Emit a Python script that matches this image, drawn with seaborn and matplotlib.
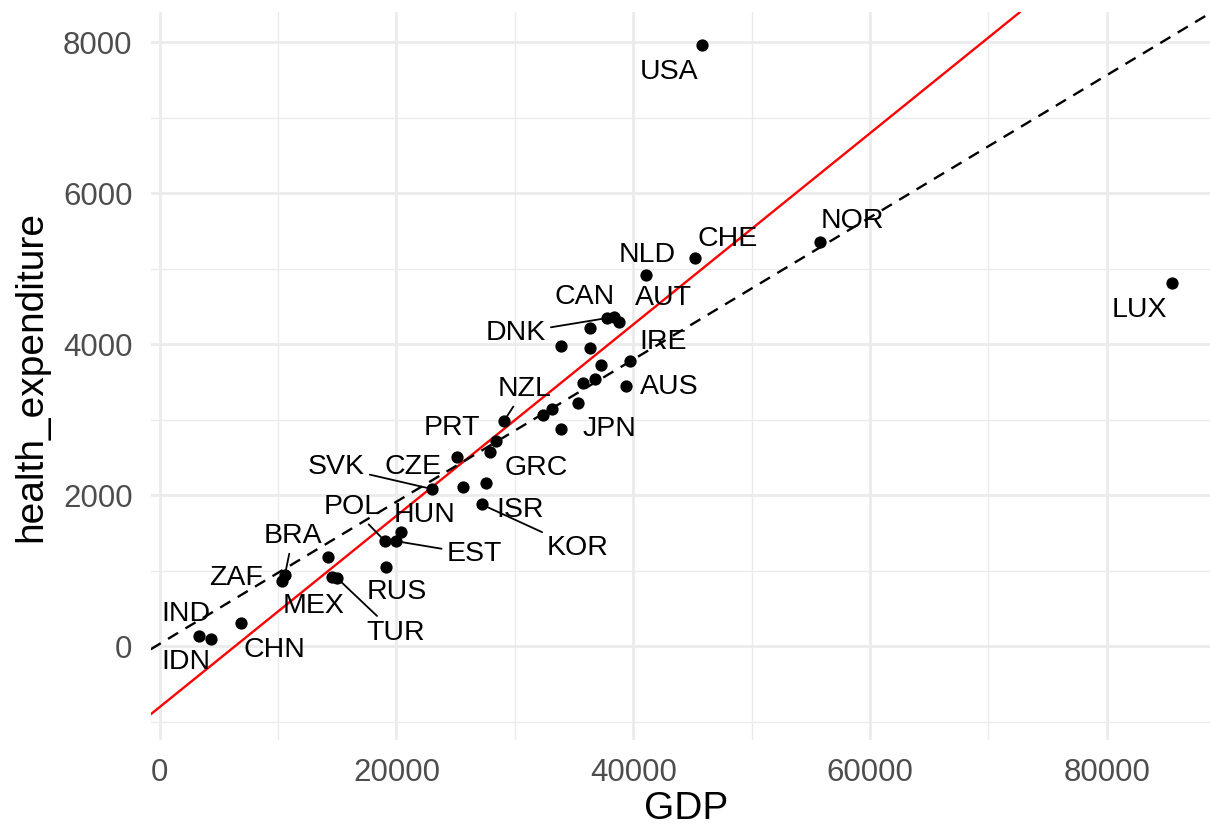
import numpy as np
import pandas as pd
import matplotlib
matplotlib.use("Agg")
import matplotlib.pyplot as plt
import seaborn as sns

# Per-capita GDP and health expenditure (USD PPP)
countries = ["USA", "CHE", "NLD", "NOR", "LUX", "DNK", "CAN", "AUT", "DEU", "FRA",
             "BEL", "IRE", "SWE", "ISL", "GBR", "AUS", "FIN", "ITA", "ESP", "JPN",
             "NZL", "GRC", "SVN", "PRT", "SVK", "CZE", "ISR", "KOR", "HUN", "POL",
             "EST", "RUS", "CHL", "BRA", "ZAF", "MEX", "TUR", "CHN", "IND", "IDN"]
gdp = [45850, 45200, 41040, 55760, 85550, 37800, 38340, 38810, 36360, 33860,
       36360, 39710, 37260, 36760, 35770, 39430, 35350, 33180, 32340, 33940,
       29070, 28400, 27890, 25080, 22970, 25630, 27550, 27190, 20370, 19020,
       19950, 19100, 14230, 10570, 10300, 14520, 14990, 6830, 3340, 4320]
health_expenditure = [7960, 5144, 4914, 5352, 4808, 4348, 4363, 4289, 4218, 3978,
                      3946, 3781, 3722, 3538, 3487, 3445, 3226, 3137, 3067, 2878,
                      2983, 2724, 2579, 2508, 2084, 2108, 2164, 1879, 1511, 1394,
                      1393, 1046, 1186, 943, 862, 918, 902, 308, 132, 99]

# Text placement for the labelled countries: (dx, dy) in pixels, and whether
# a leader segment is drawn back to the point.
label_layout = {
    "USA": (-33, 25, False), "NLD": (2, -22, False), "CHE": (33, -21, False),
    "NOR": (33, -23, False), "LUX": (-33, 25, False), "CAN": (-29, -22, False),
    "AUT": (44, -26, False), "DNK": (-91, 13, True), "IRE": (33, -21, False),
    "AUS": (43, -1, False), "JPN": (48, -2, False), "NZL": (21, -34, True),
    "PRT": (-5, -31, False), "GRC": (40, 25, False), "SVK": (-95, -24, True),
    "CZE": (-50, -22, False), "HUN": (24, -19, False), "ISR": (34, 25, False),
    "KOR": (96, 42, True), "POL": (-33, -36, True), "EST": (78, 11, True),
    "RUS": (11, 23, False), "BRA": (8, -41, True), "ZAF": (-46, -5, False),
    "MEX": (-18, 27, False), "TUR": (58, 53, True), "CHN": (34, 25, False),
    "IND": (-13, -24, False), "IDN": (-25, 21, False),
}

df = pd.DataFrame({"country": countries, "GDP": gdp,
                   "health_expenditure": health_expenditure})

# Least-squares fits: all countries, and without Luxembourg
slope_all, icpt_all = np.polyfit(df["GDP"], df["health_expenditure"], 1)
sub = df[df["country"] != "LUX"]
slope_sub, icpt_sub = np.polyfit(sub["GDP"], sub["health_expenditure"], 1)

sns.set_theme(style="whitegrid")
plt.rcParams["font.family"] = ["Liberation Sans", "DejaVu Sans"]

fig = plt.figure(figsize=(12.1, 8.3), dpi=100)
ax = fig.add_axes([150.6 / 1210, 1 - 740 / 830, (1221 - 150.6) / 1210, (740 - 12) / 830])
ax.set_facecolor("white")

sns.scatterplot(data=df, x="GDP", y="health_expenditure", ax=ax, color="black",
                s=78, linewidth=0, zorder=4)

ax.axline((0, icpt_sub), slope=slope_sub, color="#FF0000", lw=1.7, zorder=3)
dash = ax.axline((0, icpt_all), slope=slope_all, color="black", lw=1.7, zorder=3)
dash.set_dashes([5, 3.6])

for c, x, y in zip(countries, gdp, health_expenditure):
    if c not in label_layout:
        continue
    dx, dy, seg = label_layout[c]
    kw = {}
    if seg:
        kw["arrowprops"] = dict(arrowstyle="-", color="black", lw=1.3,
                                shrinkA=1, shrinkB=4)
    ax.annotate(c, xy=(x, y), xytext=(dx, -dy - 2), textcoords="offset pixels",
                ha="center", va="center", fontsize=20.5, color="black", zorder=5, **kw)

ax.set_xlim(-775, 89660)
ax.set_ylim(-1241, 8401)
ax.set_xticks([0, 20000, 40000, 60000, 80000])
ax.set_xticks([10000, 30000, 50000, 70000], minor=True)
ax.set_yticks([0, 2000, 4000, 6000, 8000])
ax.set_yticks([-1000, 1000, 3000, 5000, 7000], minor=True)
ax.set_xticklabels(["0", "20000", "40000", "60000", "80000"])
ax.set_yticklabels(["0", "2000", "4000", "6000", "8000"])

ax.grid(which="major", color="#EBEBEB", lw=2.0)
ax.grid(which="minor", color="#EBEBEB", lw=1.0)
ax.set_axisbelow(True)
for s in ax.spines.values():
    s.set_visible(False)
ax.tick_params(which="both", length=0)
ax.tick_params(axis="x", labelsize=22.5, labelcolor="#4D4D4D", pad=13)
ax.tick_params(axis="y", labelsize=22.5, labelcolor="#4D4D4D", pad=13)

ax.set_xlabel("GDP", fontsize=28, color="black", labelpad=2)
ax.set_ylabel("health_expenditure", fontsize=28, color="black", labelpad=10)

fig.savefig("out.png", dpi=100, facecolor="white")
